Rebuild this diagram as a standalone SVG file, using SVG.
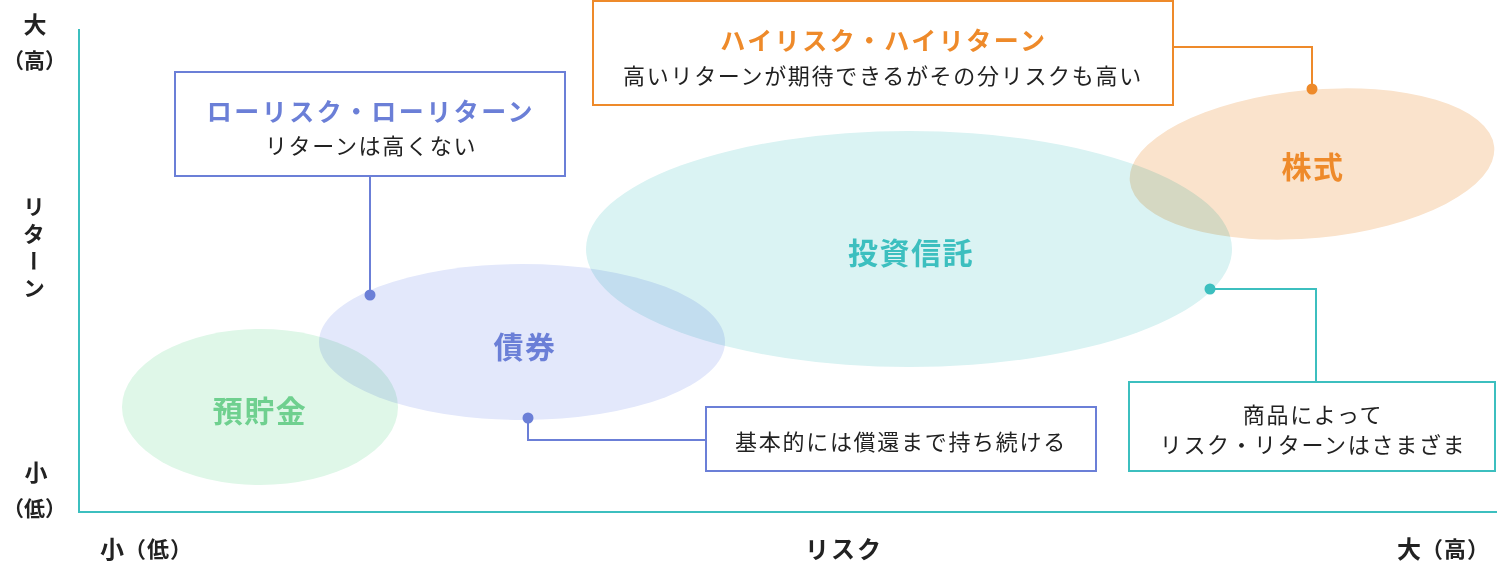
<svg xmlns="http://www.w3.org/2000/svg" width="1509" height="565" viewBox="0 0 1509 565">
<style>
text{font-family:"Noto Sans CJK JP","Noto Sans",sans-serif;dominant-baseline:central;}
.ax{font-weight:700;fill:#222;}
.palt{font-feature-settings:"palt";}
.ttl{font-weight:700;font-size:25px;letter-spacing:2.5px;text-anchor:middle;}
.sub{font-weight:400;font-size:22px;letter-spacing:1.7px;fill:#222;text-anchor:middle;}
.nl{font-weight:700;font-size:30px;letter-spacing:1.5px;text-anchor:middle;}
.box{fill:#fff;stroke-width:2;}
.con{fill:none;stroke-width:2;}
.blend{mix-blend-mode:multiply;}
</style>
<rect width="1509" height="565" fill="#fff"/>
<g id="axes">
<line x1="79" y1="29" x2="79" y2="512" stroke="#3cbfbf" stroke-width="2"/>
<line x1="78" y1="512" x2="1497" y2="512" stroke="#3cbfbf" stroke-width="2"/>
<text class="ax" x="35" y="23" font-size="23" text-anchor="middle">大</text>
<text class="ax palt" x="35" y="59" font-size="21" letter-spacing="1" text-anchor="middle">（高）</text>
<text class="ax" x="34" y="196" font-size="22" style="writing-mode:vertical-rl;letter-spacing:5px;dominant-baseline:auto" text-anchor="start">リターン</text>
<text class="ax" x="36" y="471" font-size="23" text-anchor="middle">小</text>
<text class="ax palt" x="35" y="507" font-size="21" letter-spacing="1" text-anchor="middle">（低）</text>
<text class="ax" x="100" y="547" font-size="24">小<tspan font-size="22" letter-spacing="1">（低）</tspan></text>
<text class="ax" x="844" y="547" font-size="24" letter-spacing="2" text-anchor="middle">リスク</text>
<text class="ax" x="1397" y="547" font-size="24">大<tspan font-size="22" letter-spacing="1">（高）</tspan></text>
</g>
<g id="ellipses">
<g id="yochokin"><ellipse class="blend" cx="260" cy="407" rx="138" ry="78" fill="#dff7e8"/></g>
<g id="saiken"><ellipse class="blend" cx="522" cy="342" rx="203" ry="78" fill="#e3e8fb"/></g>
<g id="toushin"><ellipse class="blend" cx="909" cy="249" rx="323" ry="118" fill="#daf3f3"/></g>
<g id="kabu"><ellipse class="blend" cx="1312" cy="164" rx="183" ry="74" transform="rotate(-5.4 1312 164)" fill="#fae3cc"/></g>
</g>
<g id="labels">
<text class="nl" x="260" y="409" fill="#6fd08f">預貯金</text>
<text class="nl" x="525" y="345" fill="#6b7fd7">債券</text>
<text class="nl" x="911" y="251" fill="#3cbfbf">投資信託</text>
<text class="nl" x="1313" y="165" fill="#ee8a2a">株式</text>
</g>
<g id="connectors">
<polyline class="con" points="370,177 370,295" stroke="#6b7fd7"/>
<circle cx="370" cy="295" r="5.5" fill="#6b7fd7"/>
<polyline class="con" points="1174,47 1312,47 1312,89" stroke="#ee8a2a"/>
<circle cx="1312" cy="89" r="5.5" fill="#ee8a2a"/>
<polyline class="con" points="528,418 528,440 705,440" stroke="#6b7fd7"/>
<circle cx="528" cy="418" r="5.5" fill="#6b7fd7"/>
<polyline class="con" points="1210,289 1316,289 1316,381" stroke="#3cbfbf"/>
<circle cx="1210" cy="289" r="5.5" fill="#3cbfbf"/>
</g>
<g id="box-low">
<rect class="box" x="175" y="72" width="390" height="104" stroke="#6b7fd7"/>
<text class="ttl" x="371" y="110" fill="#6b7fd7">ローリスク・ローリターン</text>
<text class="sub" x="371" y="144">リターンは高くない</text>
</g>
<g id="box-high">
<rect class="box" x="593" y="1" width="580" height="104" stroke="#ee8a2a"/>
<text class="ttl" x="884" y="39" fill="#ee8a2a">ハイリスク・ハイリターン</text>
<text class="sub" x="883" y="74">高いリターンが期待できるがその分リスクも高い</text>
</g>
<g id="box-bond">
<rect class="box" x="706" y="407" width="390" height="64" stroke="#6b7fd7"/>
<text class="sub" x="901" y="440">基本的には償還まで持ち続ける</text>
</g>
<g id="box-fund">
<rect class="box" x="1129" y="382" width="366" height="89" stroke="#3cbfbf"/>
<text class="sub" x="1313" y="413">商品によって</text>
<text class="sub" x="1313" y="443">リスク・リターンはさまざま</text>
</g>
</svg>
